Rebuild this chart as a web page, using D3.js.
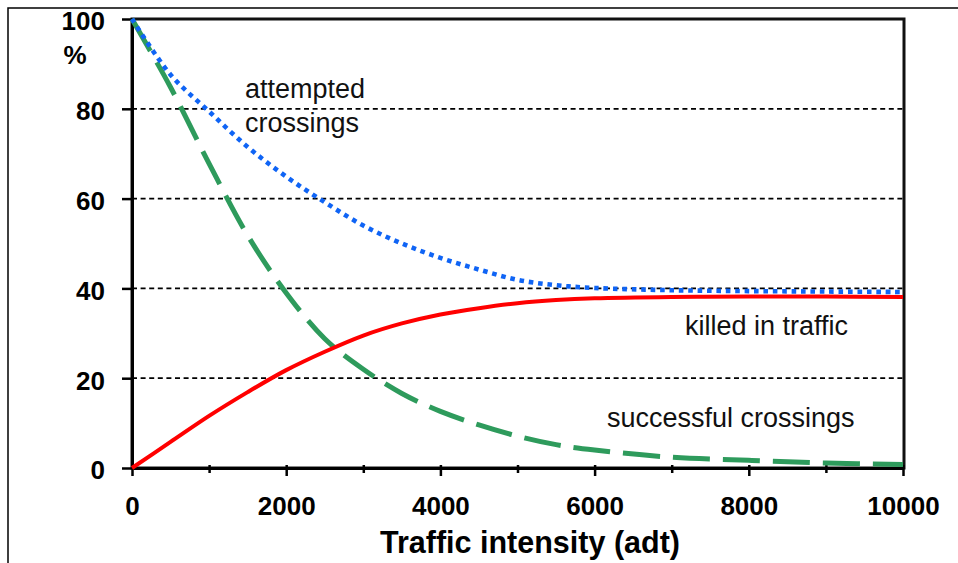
<!DOCTYPE html>
<html>
<head>
<meta charset="utf-8">
<script src="https://cdn.jsdelivr.net/npm/d3@7"></script>
<style>
  html, body { margin: 0; padding: 0; background: #fff; }
  svg { display: block; font-family: "Liberation Sans", Arial, sans-serif; }
  .tick text { font-weight: bold; font-size: 26px; fill: #000; }
  .note { font-size: 27px; fill: #111; }
</style>
</head>
<body>
<div id="chart-wrap"></div>
<script>
// values
const trafficAdt = [0, 500, 1000, 1500, 2000, 2500, 3000, 3500, 4000, 4500, 5000, 5500, 6000, 7000, 8000, 9000, 10000];
const attempted = [100, 87.6, 79.4, 71.5, 64.9, 59.2, 54.0, 50.0, 46.8, 44.2, 41.9, 40.7, 40.1, 39.6, 39.4, 39.3, 39.2];
const killed = [0, 5.8, 11.6, 16.9, 21.8, 25.9, 29.5, 32.2, 34.2, 35.6, 36.7, 37.4, 37.8, 38.1, 38.2, 38.2, 38.1];
const successful = [100, 84.8, 67.8, 51.8, 39.0, 28.8, 22.0, 16.6, 12.6, 9.6, 7.1, 5.2, 4.0, 2.4, 1.7, 1.1, 0.8];
const xMajorTicks = [0, 2000, 4000, 6000, 8000, 10000];
const xMinorTicks = [1000, 3000, 5000, 7000, 9000];
const yTicks = [0, 20, 40, 60, 80, 100];
const yGrid = [20, 40, 60, 80];

const width = 958;
const height = 563;
const margin = { top: 19, right: 55, bottom: 95, left: 132 };

const svg = d3.select('#chart-wrap').append('svg')
  .attr('width', width)
  .attr('height', height);

// outer frame (only left and top edges show)
svg.append('path')
  .attr('d', `M8,${height} V8 H${width}`)
  .attr('fill', 'none')
  .attr('stroke', '#000')
  .attr('stroke-width', 1.5);

const x = d3.scaleLinear().domain([0, 10000]).range([margin.left, width - margin.right]);
const y = d3.scaleLinear().domain([0, 100]).range([height - margin.bottom, margin.top]);

// gridlines
svg.append('g')
  .selectAll('line')
  .data(yGrid)
  .join('line')
  .attr('x1', x(0))
  .attr('x2', x(10000))
  .attr('y1', d => y(d))
  .attr('y2', d => y(d))
  .attr('stroke', '#000')
  .attr('stroke-width', 1.8)
  .attr('stroke-dasharray', '5,3.6');

// plot frame
svg.append('rect')
  .attr('x', x(0))
  .attr('y', y(100))
  .attr('width', x(10000) - x(0) + 1)
  .attr('height', y(0) - y(100))
  .attr('fill', 'none')
  .attr('stroke', '#111')
  .attr('stroke-width', 3);

// axes
const xAxis = svg.append('g')
  .attr('transform', `translate(0,${y(0)})`)
  .call(d3.axisBottom(x).tickValues(xMajorTicks).tickSizeInner(8).tickSizeOuter(0).tickFormat(d3.format('d')));
xAxis.selectAll('.tick text').attr('y', 29);

const xMinor = svg.append('g')
  .attr('transform', `translate(0,${y(0)})`)
  .call(d3.axisBottom(x).tickValues(xMinorTicks).tickSizeInner(5).tickSizeOuter(0).tickFormat(''));

[xAxis, xMinor].forEach(g => {
  g.select('.domain').attr('stroke-width', 3).attr('stroke', '#000');
  g.selectAll('.tick line').attr('y1', -3).attr('stroke-width', 2.5).attr('stroke', '#000');
});

const yAxis = svg.append('g')
  .attr('transform', `translate(${x(0)},0)`)
  .call(d3.axisLeft(y).tickValues(yTicks).tickSizeInner(10).tickSizeOuter(0).tickPadding(17));
yAxis.select('.domain').attr('stroke-width', 3).attr('stroke', '#000');
yAxis.selectAll('.tick line').attr('stroke-width', 2.5).attr('stroke', '#000');
yAxis.selectAll('.tick text').attr('dy', '0.42em');

svg.append('text')
  .attr('x', 75)
  .attr('y', 64)
  .attr('text-anchor', 'middle')
  .style('font-weight', 'bold')
  .style('font-size', '26px')
  .text('%');

// axis title
svg.append('text')
  .attr('x', 530)
  .attr('y', 553)
  .attr('text-anchor', 'middle')
  .style('font-weight', 'bold')
  .style('font-size', '30.5px')
  .text('Traffic intensity (adt)');

// curves
const line = (values) => d3.line()
  .x((d, i) => x(trafficAdt[i]))
  .y(d => y(d))
  .curve(d3.curveCatmullRom.alpha(0.5))(values);

svg.append('path')
  .attr('d', line(successful))
  .attr('fill', 'none')
  .attr('stroke', '#2e9b5c')
  .attr('stroke-width', 5)
  .attr('stroke-dasharray', '37,13');

svg.append('path')
  .attr('d', line(attempted))
  .attr('fill', 'none')
  .attr('stroke', '#0f64f5')
  .attr('stroke-width', 4.6)
  .attr('stroke-dasharray', '4.6,4.8');

svg.append('path')
  .attr('d', line(killed))
  .attr('fill', 'none')
  .attr('stroke', '#ff0000')
  .attr('stroke-width', 4);

// labels on the curves
const notes = [
  { text: 'attempted', px: 245, py: 98 },
  { text: 'crossings', px: 245, py: 132 },
  { text: 'killed in traffic', px: 685, py: 335 },
  { text: 'successful crossings', px: 607, py: 427 }
];
svg.append('g')
  .selectAll('text')
  .data(notes)
  .join('text')
  .attr('class', 'note')
  .attr('x', d => d.px)
  .attr('y', d => d.py)
  .text(d => d.text);
</script>
</body>
</html>
